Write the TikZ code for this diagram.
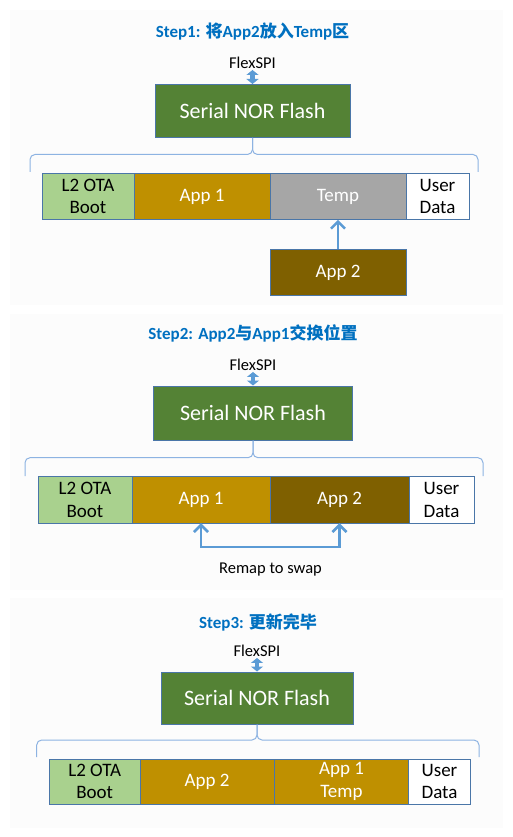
\documentclass[tikz,border=0pt]{standalone}
\usepackage{fontspec}
\setmainfont{Carlito}
\newfontfamily\cjk{Noto Sans CJK SC}
\usepackage{tikz}
\usepackage{xcolor}
\usetikzlibrary{positioning, arrows.meta}

\definecolor{flashgreen}{HTML}{548235}
\definecolor{bootgreen}{HTML}{A9D18E}
\definecolor{gold}{HTML}{BF9000}
\definecolor{darkgold}{HTML}{7F6000}
\definecolor{tempgray}{HTML}{A6A6A6}
\definecolor{edge}{HTML}{4A76A8}
\definecolor{busblue}{HTML}{5B9BD5}
\definecolor{bracecol}{HTML}{8DB3E2}
\definecolor{titleblue}{HTML}{0070C0}
\definecolor{panelbg}{HTML}{FCFCFC}

\newcommand\zh[1]{{\cjk #1}}

\tikzset{
    title/.style={text=titleblue, font=\bfseries\fontsize{17}{20}\selectfont},
    flex/.style={font=\fontsize{16.5}{19}\selectfont, inner sep=1pt},
    flash/.style={draw=edge, fill=flashgreen, text=white, line width=1pt, font=\fontsize{22}{26}\selectfont},
    cell/.style={draw=edge, line width=1pt, outer sep=0pt, inner sep=0pt, minimum height=46.5pt, align=center, font=\fontsize{19}{22.5}\selectfont},
    brace/.style={draw=bracecol, line width=1pt, rounded corners=5pt},
    bus/.style={draw=busblue, line width=4.5pt, >={Triangle[length=5pt,width=12pt]}, <->},
    move/.style={draw=busblue, line width=2.6pt, >={Straight Barb[length=7pt,width=14pt]}}
}

\begin{document}
\begin{tikzpicture}[x=1pt, y=-1pt]
        \useasboundingbox (0,0) rectangle (513,837);
        \fill[white] (0,0) rectangle (513,837);
        \fill[panelbg] (10,10) rectangle (503,305);
        \fill[panelbg] (10,314) rectangle (503,590);
        \fill[panelbg] (10,598) rectangle (503,828);

        % Step 1
        \node[title] (title1) at (252.5,32) {Step1: \zh{将}App2\zh{放入}Temp\zh{区}};
        \node[flex] (flex1) at (252.5,63) {FlexSPI};
        \node[flash, minimum width=195pt, minimum height=53pt] (flash1) at (252.5,111) {Serial NOR Flash};
        \draw[bus] (flex1.south) -- (flash1.north);
        \draw[brace] (30,172) -- (30,154.5) -- (252.5,154.5) -- (flash1.south);
        \draw[brace] (flash1.south) -- (252.5,154.5) -- (478,154.5) -- (478,172);

        \node[cell, fill=bootgreen, minimum width=92pt, anchor=north west] (boot1) at (42,173.3) {L2 OTA\\Boot};
        \node[cell, fill=gold, text=white, minimum width=136pt, right=0pt of boot1] (app1a) {App 1};
        \node[cell, fill=tempgray, text=white, minimum width=136pt, right=0pt of app1a] (temp1) {Temp};
        \node[cell, fill=white, minimum width=63pt, right=0pt of temp1] (user1) {User\\Data};
        \node[cell, fill=darkgold, text=white, minimum width=136pt, anchor=north west] (app2a) at (270,249.3) {App 2};
        \draw[move, ->] (app2a) -- (temp1);

        % Step 2
        \node[title] (title2) at (253,333) {Step2: App2\zh{与}App1\zh{交换位置}};
        \node[flex] (flex2) at (253,365) {FlexSPI};
        \node[flash, minimum width=199pt, minimum height=54pt] (flash2) at (253,413) {Serial NOR Flash};
        \draw[bus] (flex2.south) -- (flash2.north);
        \draw[brace] (25,476) -- (25,457.7) -- (253,457.7) -- (flash2.south);
        \draw[brace] (flash2.south) -- (253,457.7) -- (483,457.7) -- (483,476);

        \node[cell, fill=bootgreen, minimum width=94pt, anchor=north west] (boot2) at (38,476.7) {L2 OTA\\Boot};
        \node[cell, fill=gold, text=white, minimum width=138pt, right=0pt of boot2] (app1b) {App 1};
        \node[cell, fill=darkgold, text=white, minimum width=139pt, right=0pt of app1b] (app2b) {App 2};
        \node[cell, fill=white, minimum width=65pt, right=0pt of app2b] (user2) {User\\Data};
        \draw[move, <->] (app1b.south) -- ++(0,23.7) -| (app2b.south);
        \node[flex] (remap) at (270.5,570) {Remap to swap};

        % Step 3
        \node[title] (title3) at (258,622) {Step3: \zh{更新完毕}};
        \node[flex] (flex3) at (257,651) {FlexSPI};
        \node[flash, minimum width=192pt, minimum height=52pt] (flash3) at (257,698) {Serial NOR Flash};
        \draw[bus] (flex3.south) -- (flash3.north);
        \draw[brace] (36.7,757) -- (36.7,740) -- (257,740) -- (flash3.south);
        \draw[brace] (flash3.south) -- (257,740) -- (479,740) -- (479,757);

        \node[cell, fill=bootgreen, minimum width=90.7pt, minimum height=45pt, anchor=north west] (boot3) at (49.3,759) {L2 OTA\\Boot};
        \node[cell, fill=gold, text=white, minimum width=134.3pt, minimum height=45pt, right=0pt of boot3] (app2c) {App 2};
        \node[cell, fill=gold, text=white, minimum width=134.4pt, minimum height=45pt, right=0pt of app2c] (app1c) {App 1\\Temp};
        \node[cell, fill=white, minimum width=61.6pt, minimum height=45pt, right=0pt of app1c] (user3) {User\\Data};
\end{tikzpicture}
\end{document}
